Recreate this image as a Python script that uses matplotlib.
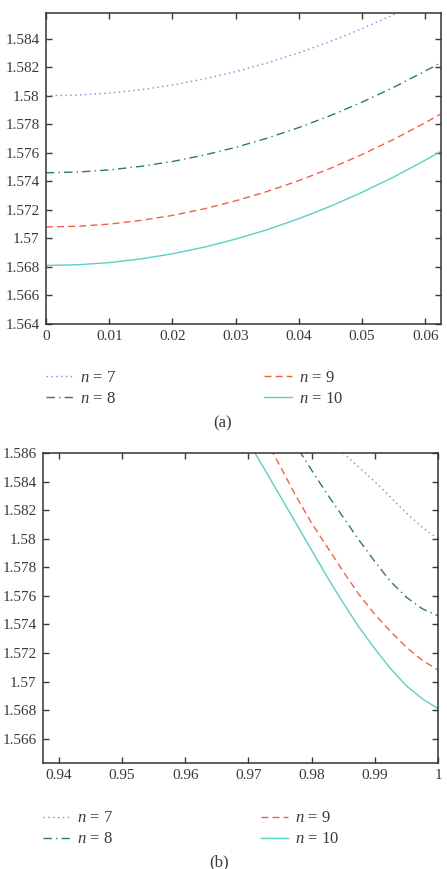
import matplotlib
matplotlib.use("Agg")
import matplotlib.pyplot as plt
from matplotlib.ticker import FuncFormatter

plt.rcParams['font.family'] = ['Liberation Serif', 'DejaVu Serif']
plt.rcParams['mathtext.fontset'] = 'custom'
plt.rcParams['mathtext.it'] = 'Liberation Serif:italic'
plt.rcParams['mathtext.rm'] = 'Liberation Serif'

labels = ['$n$ = 7', '$n$ = 8', '$n$ = 9', '$n$ = 10']

# panel (a)
xa = [0, 0.005, 0.01, 0.015, 0.02, 0.025, 0.03, 0.035, 0.04, 0.045, 0.05, 0.055, 0.06, 0.0625]
ya7 = [1.5800, 1.58005, 1.58019, 1.58042, 1.58075, 1.58118, 1.58169, 1.58230, 1.58301, 1.58381,
       1.58470, 1.58569, 1.58677, 1.58734]
ya8 = [1.5746, 1.57465, 1.5748, 1.57505, 1.57539, 1.57584, 1.57638, 1.57703, 1.57777, 1.57861,
       1.57955, 1.58059, 1.58173, 1.58233]
ya9 = [1.5708, 1.57085, 1.5710, 1.57126, 1.57161, 1.57207, 1.57263, 1.57329, 1.57405, 1.57491,
       1.57588, 1.57694, 1.57811, 1.57873]
ya10 = [1.5681, 1.56815, 1.5683, 1.56856, 1.56892, 1.56938, 1.56995, 1.57061, 1.57138, 1.57225,
        1.57323, 1.5743, 1.57548, 1.57611]

# panel (b)
xb7 = [0.985, 0.9875, 0.99, 0.9925, 0.995, 0.9975, 1.0]
yb7 = [1.5860, 1.5850, 1.5840, 1.5829, 1.5818, 1.5808, 1.5800]
xb8 = [0.978, 0.98, 0.9825, 0.985, 0.9875, 0.99, 0.9925, 0.995, 0.9975, 1.0]
yb8 = [1.5862, 1.5848, 1.5831, 1.5815, 1.5799, 1.5784, 1.5770, 1.5759, 1.5751, 1.5746]
xb9 = [0.9735, 0.975, 0.9775, 0.98, 0.9825, 0.985, 0.9875, 0.99, 0.9925, 0.995, 0.9975, 1.0]
yb9 = [1.5863, 1.5851, 1.5830, 1.5811, 1.5794, 1.5777, 1.5761, 1.5747, 1.5735, 1.5724, 1.5715, 1.5708]
xb10 = [0.9705, 0.9725, 0.975, 0.9775, 0.98, 0.9825, 0.985, 0.9875, 0.99, 0.9925, 0.995, 0.9975, 1.0]
yb10 = [1.5864, 1.5849, 1.5830, 1.5811, 1.5792, 1.5773, 1.5755, 1.5738, 1.5723, 1.5709, 1.5697,
        1.5688, 1.5681]

colors = ['#7f86e0', '#2f7d55', '#f2604a', '#5ccfc6']
styles = [(0, (1, 2.5)), (0, (6, 3, 1, 3)), (0, (5, 3)), '-']
txt = '#3a3a3a'
fs = 12
tfs = 11

fmt = FuncFormatter(lambda v, p: '%g' % round(v, 4))


def style_axes(ax):
    ax.tick_params(direction='in', length=4, width=1, colors=txt, labelsize=tfs,
                   top=True, right=True, pad=4.5)
    for s in ax.spines.values():
        s.set_color('#333333')
        s.set_linewidth(1.1)
    ax.xaxis.set_major_formatter(fmt)
    ax.yaxis.set_major_formatter(fmt)


def add_legend(ax, x0, y0):
    ax.legend(loc='upper left', bbox_to_anchor=(x0, y0), bbox_transform=fig.transFigure,
              ncol=2, frameon=False, fontsize=fs, handlelength=1.63, handletextpad=0.42,
              columnspacing=8.9, labelspacing=0.3, borderpad=0, borderaxespad=0,
              labelcolor=txt)


fig = plt.figure(figsize=(4.47, 8.69), dpi=100)

ax1 = fig.add_axes([0.1029, 0.6272, 0.8837, 0.3578])
for y, c, ls, lb in zip([ya7, ya8, ya9, ya10], colors, styles, labels):
    ax1.plot(xa, y, color=c, linestyle=ls, linewidth=1.0, label=lb)
ax1.set_xlim(0, 0.0625)
ax1.set_ylim(1.564, 1.5858)
ax1.set_xticks([0, 0.01, 0.02, 0.03, 0.04, 0.05, 0.06])
ax1.set_yticks([1.564 + 0.002 * i for i in range(11)])
style_axes(ax1)
add_legend(ax1, 0.103, 0.5745)
fig.text(0.497, 0.513, '(a)', ha='center', va='center', fontsize=fs, color=txt)

ax2 = fig.add_axes([0.0962, 0.1220, 0.8837, 0.3567])
for x, y, c, ls, lb in zip([xb7, xb8, xb9, xb10], [yb7, yb8, yb9, yb10], colors, styles, labels):
    ax2.plot(x, y, color=c, linestyle=ls, linewidth=1.0, label=lb)
ax2.set_xlim(0.9375, 1.0)
ax2.set_ylim(1.5643, 1.586)
ax2.set_xticks([0.94, 0.95, 0.96, 0.97, 0.98, 0.99, 1.0])
ax2.set_yticks([1.566 + 0.002 * i for i in range(11)])
style_axes(ax2)
add_legend(ax2, 0.096, 0.0675)
fig.text(0.49, 0.008, '(b)', ha='center', va='center', fontsize=fs, color=txt)

fig.savefig('out.png', dpi=100)
